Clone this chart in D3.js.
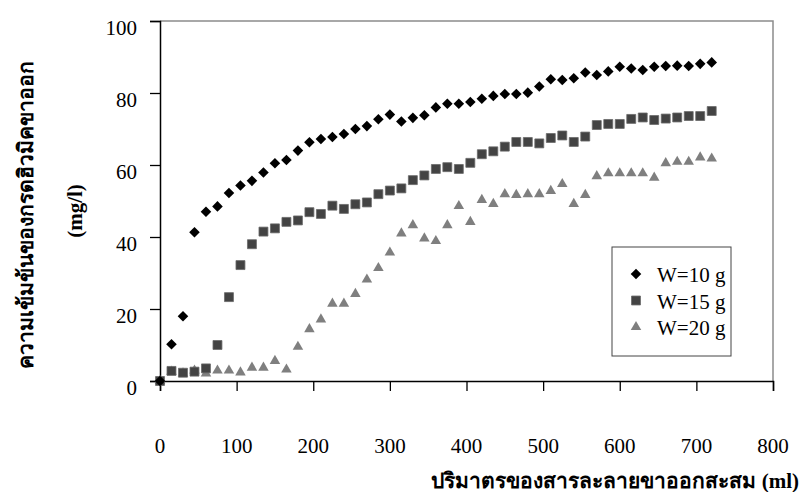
<!DOCTYPE html>
<html>
<head>
<meta charset="utf-8">
<script src="https://cdn.jsdelivr.net/npm/d3@7"></script>
<style>
  body { margin: 0; background: #fff; }
  svg text { font-family: "Liberation Serif", "Times New Roman", serif; }
</style>
</head>
<body>
<div id="chart"></div>
<script>
// volume (ml), one sample every 15 ml
var volume = d3.range(0, 721, 15);

var w10 = [0, 10.2, 18, 41.3, 47, 48.5, 52.2, 54.3, 55.6, 57.9, 60.5, 61.4, 64, 66.3, 67.2, 67.8,
  68.6, 70, 70.8, 72.7, 74, 72.1, 73.1, 73.8, 76, 77, 77, 77.5, 78.4, 79.2, 79.7, 79.7, 80.1,
  81.8, 83.8, 83.6, 84.1, 85.7, 85, 86, 87.3, 86.8, 86.4, 87.3, 87.5, 87.6, 87.5, 88.1, 88.5];

var w15 = [0, 2.8, 2.3, 2.6, 3.5, 10, 23.3, 32.2, 38, 41.5, 42.4, 44.2, 44.6, 46.9, 46.4, 48.7,
  47.8, 49.1, 49.6, 51.9, 52.9, 53.5, 55.8, 57.1, 58.9, 59.4, 58.9, 60.6, 63, 63.8, 65.1, 66.4,
  66.4, 66, 67.5, 68.2, 66.4, 67.9, 71.1, 71.4, 71.4, 72.8, 73.2, 72.5, 72.9, 73.2, 73.6, 73.6, 75];

var w20 = [0, 2.6, 2.1, 2.9, 2.1, 2.9, 2.9, 2.4, 3.7, 3.7, 5.6, 3.2, 9.5, 14.4, 17.1, 21.5,
  21.5, 24.2, 28.2, 31.4, 35.7, 41, 43.3, 39.6, 38.9, 43.3, 48.6, 44.2, 50.3, 49.2, 51.9, 51.7,
  51.9, 51.9, 52.8, 54.7, 49.2, 51.7, 56.9, 57.7, 57.7, 57.7, 57.7, 56.5, 60.5, 60.9, 60.9, 62.1, 61.8];

var seriesNames = ["W=10 g", "W=15 g", "W=20 g"];
var xTicks = [0, 100, 200, 300, 400, 500, 600, 700, 800];
var yTicks = [0, 20, 40, 60, 80, 100];

var W = 801, H = 492;
var margin = { top: 21, right: 28, bottom: 111, left: 160 },
    width = W - margin.left - margin.right,
    height = H - margin.top - margin.bottom;

var svg = d3.select('#chart').append('svg')
    .attr('width', W)
    .attr('height', H);

var g = svg.append('g')
    .attr('transform', 'translate(' + margin.left + ',' + margin.top + ')');

var x = d3.scaleLinear().domain([0, 800]).range([0, width]);
var y = d3.scaleLinear().domain([0, 100]).range([height, 0]);

// top and right frame
g.append("path")
  .attr("d", `M0,0H${width}V${height}`)
  .attr("fill", "none")
  .attr("stroke", "#8c8c8c")
  .attr("stroke-width", 1.5);

// x axis: ticks on the line, labels far below
var xAxis = g.append("g")
    .attr("transform", `translate(0, ${height})`)
    .call(d3.axisBottom(x).tickValues(xTicks).tickSize(10).tickFormat(""));
xAxis.select(".domain").attr("stroke", "#000").attr("stroke-width", 1.5);
xAxis.selectAll(".tick line").attr("stroke", "#000").attr("stroke-width", 1.3);

g.append("g").selectAll("text")
  .data(xTicks)
  .join("text")
    .attr("x", d => x(d))
    .attr("y", height + 72)
    .attr("text-anchor", "middle")
    .attr("font-size", 21)
    .text(d => d);

var yAxis = g.append("g")
    .call(d3.axisLeft(y).tickValues(yTicks).tickSize(10).tickPadding(13));
yAxis.select(".domain").attr("stroke", "#000").attr("stroke-width", 1.5);
yAxis.selectAll(".tick line").attr("stroke", "#000").attr("stroke-width", 1.3);
yAxis.selectAll(".tick text")
  .attr("font-size", 21)
  .attr("font-family", "Liberation Serif, serif")
  .attr("fill", "#000")
  .attr("dy", "0.65em");

// axis titles
svg.append("text")
  .attr("x", 799)
  .attr("y", 488)
  .attr("text-anchor", "end")
  .attr("font-size", 21)
  .attr("font-weight", "bold")
  .text("ปริมาตรของสารละลายขาออกสะสม (ml)");

svg.append("text")
  .attr("transform", "translate(33, 215) rotate(-90)")
  .attr("text-anchor", "middle")
  .attr("font-size", 21)
  .attr("font-weight", "bold")
  .text("ความเข้มข้นของกรดฮิวมิคขาออก");

svg.append("text")
  .attr("transform", "translate(82, 211) rotate(-90)")
  .attr("text-anchor", "middle")
  .attr("font-size", 21)
  .attr("font-weight", "bold")
  .text("(mg/l)");

// markers
var diamond = d3.symbol(d3.symbolSquare, 56)();
var square = d3.symbol(d3.symbolSquare, 80)();
var triangle = d3.symbol(d3.symbolTriangle, 48)();

var styles = [
  { path: diamond, rot: 45, fill: "#000", stroke: "none" },
  { path: square, rot: 0, fill: "#434343", stroke: "#6a6a6a" },
  { path: triangle, rot: 0, fill: "#7f7f7f", stroke: "none" }
];

[w20, w15, w10].forEach(function(vals, k) {
  var s = styles[2 - k];
  g.append("g").selectAll("path")
    .data(vals)
    .join("path")
      .attr("d", s.path)
      .attr("transform", (d, i) => `translate(${x(volume[i])},${y(d)}) rotate(${s.rot})`)
      .attr("fill", s.fill)
      .attr("stroke", s.stroke)
      .attr("stroke-width", 0.8);
});

// legend
var lg = svg.append("g").attr("transform", "translate(612, 247)");
lg.append("rect")
  .attr("width", 119)
  .attr("height", 109)
  .attr("fill", "#fff")
  .attr("stroke", "#444")
  .attr("stroke-width", 1);

seriesNames.forEach(function(name, i) {
  var s = styles[i];
  var row = lg.append("g").attr("transform", `translate(0, ${27 + i * 26.5})`);
  row.append("path")
    .attr("d", s.path)
    .attr("transform", `translate(24, 0) rotate(${s.rot})`)
    .attr("fill", s.fill)
    .attr("stroke", s.stroke)
    .attr("stroke-width", 0.8);
  row.append("text")
    .attr("x", 45)
    .attr("y", 8)
    .attr("font-size", 21)
    .text(name);
});
</script>
</body>
</html>
